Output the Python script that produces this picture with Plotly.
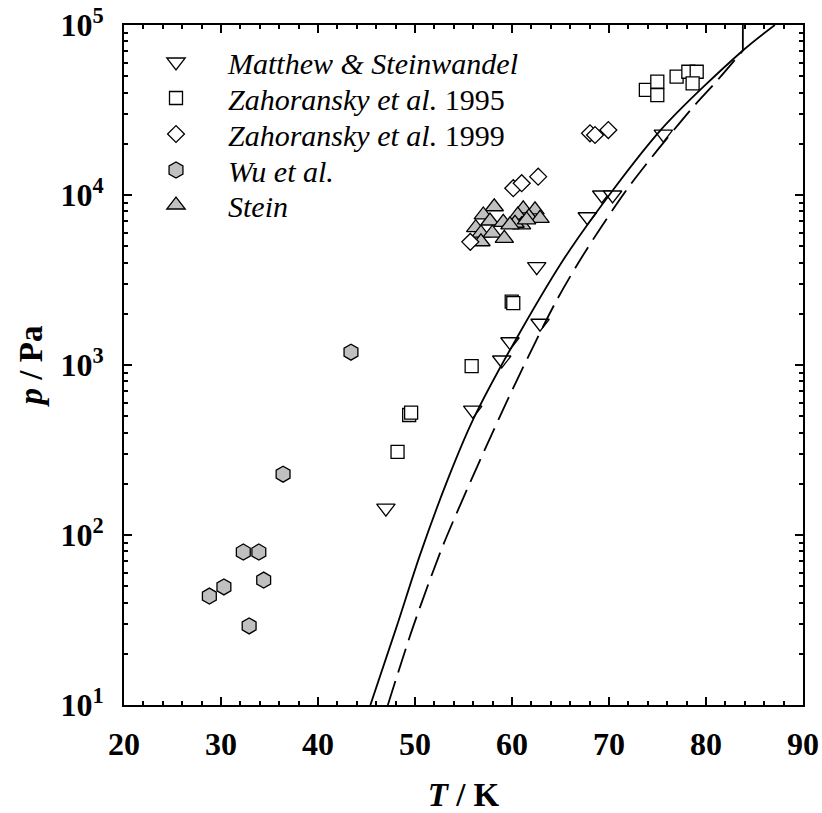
import plotly.graph_objects as go

# ---------------- data ----------------
ms_T = [47.0, 55.95, 58.94, 59.79, 62.55, 62.89, 67.76, 69.25, 70.37, 75.6]
ms_p = [144, 543, 1070, 1370, 3790, 1760, 7450, 10000, 10000, 22800]

z95_T = [48.2, 49.4, 49.6, 55.84, 59.97, 60.13, 73.8, 74.98, 74.98, 76.97, 78.18, 79.04, 78.62]
z95_p = [308, 508, 525, 986, 2360, 2310, 41500, 46400, 38700, 49700, 53100, 53100, 45400]

z99_T = [55.7, 60.13, 61.0, 62.7, 68.04, 68.56, 69.93]
z99_p = [5300, 10960, 11730, 12820, 23070, 22540, 24100]

wu_T = [28.8, 30.3, 32.3, 32.9, 33.9, 34.4, 36.4, 43.4]
wu_p = [43.7, 49.5, 79.4, 29.2, 79.4, 54.3, 228, 1190]

stein_T = [58.17, 57.04, 57.73, 59.10, 56.26, 56.80, 57.97, 59.21, 56.80,
           61.16, 62.37, 60.59, 61.75, 62.89, 60.99, 60.31, 59.79, 61.51]
stein_p = [8530, 7630, 7030, 6910, 6420, 5960, 5960, 5560, 5310,
           8280, 8170, 7620, 7450, 7290, 6670, 6820, 6670, 7130]

solid_T = [45.4, 48.1, 50.5, 53.4, 56.0, 60.8, 66.0, 75.3, 83.8, 87.1]
solid_p = [10, 28.8, 75.9, 213.8, 478.6, 1549, 4786, 23990, 70800, 100000]

dashed_T = [47.2, 49.8, 52.9, 56.7, 60.5, 64.6, 67.7, 72.2, 78.4, 81.1, 83.8]
dashed_p = [10, 28.8, 87.1, 275, 813, 2399, 4786, 11480, 31620, 46770, 70800]

vert_T = [83.8, 83.8]
vert_p = [70800, 100000]

x_ticks = [20, 30, 40, 50, 60, 70, 80, 90]
y_ticks = [10, 100, 1000, 10000, 100000]
y_ticktext = ["10<sup>1</sup>", "10<sup>2</sup>", "10<sup>3</sup>", "10<sup>4</sup>", "10<sup>5</sup>"]
y_minor = [m * 10 ** e for e in range(1, 5) for m in range(2, 10)]

legend_names = ["<i>Matthew &amp; Steinwandel</i>",
                "<i>Zahoransky et al.</i> 1995",
                "<i>Zahoransky et al.</i> 1999",
                "<i>Wu et al.</i>",
                "<i>Stein</i>"]

FONT = "'Liberation Serif', 'Times New Roman', Times, serif"
GRAY = "#c0c0c0"

fig = go.Figure()

fig.add_trace(go.Scatter(x=stein_T, y=stein_p, mode="markers", name=legend_names[4],
                         legend="legend5",
                         marker=dict(symbol="triangle-up", size=16, color=GRAY,
                                     line=dict(color="black", width=1.3))))
fig.add_trace(go.Scatter(x=wu_T, y=wu_p, mode="markers", name=legend_names[3],
                         legend="legend4",
                         marker=dict(symbol="hexagon", size=16, color=GRAY,
                                     line=dict(color="black", width=1.3))))
fig.add_trace(go.Scatter(x=ms_T, y=ms_p, mode="markers", name=legend_names[0],
                         legend="legend",
                         marker=dict(symbol="triangle-down", size=16, color="white",
                                     line=dict(color="black", width=1.3))))
fig.add_trace(go.Scatter(x=z95_T, y=z95_p, mode="markers", name=legend_names[1],
                         legend="legend2",
                         marker=dict(symbol="square", size=13, color="white",
                                     line=dict(color="black", width=1.3))))
fig.add_trace(go.Scatter(x=z99_T, y=z99_p, mode="markers", name=legend_names[2],
                         legend="legend3",
                         marker=dict(symbol="diamond", size=13, color="white",
                                     line=dict(color="black", width=1.3))))

fig.add_trace(go.Scatter(x=solid_T, y=solid_p, mode="lines", showlegend=False,
                         line=dict(color="black", width=1.8, shape="spline", smoothing=0.8)))
fig.add_trace(go.Scatter(x=dashed_T, y=dashed_p, mode="lines", showlegend=False,
                         line=dict(color="black", width=1.8, dash="25px,9px",
                                   shape="spline", smoothing=0.8)))
fig.add_trace(go.Scatter(x=vert_T, y=vert_p, mode="lines", showlegend=False,
                         line=dict(color="black", width=1.8)))

W, HGT = 822, 813
L, R, T, B = 124, 19, 25, 108
H = HGT - T - B


def legend_at(py):
    # py: pixel row of the legend entry
    return dict(x=0, xanchor="left", y=(HGT - B - py) / H, yanchor="middle",
                bgcolor="rgba(0,0,0,0)", borderwidth=0, itemwidth=94,
                font=dict(family=FONT, size=30, color="black"))


rows = [62, 98, 134, 170, 205]

fig.update_layout(
    width=W, height=HGT,
    margin=dict(l=L, r=R, t=T, b=B, autoexpand=False),
    paper_bgcolor="white", plot_bgcolor="white",
    showlegend=True,
    legend=legend_at(rows[0]),
    legend2=legend_at(rows[1]),
    legend3=legend_at(rows[2]),
    legend4=legend_at(rows[3]),
    legend5=legend_at(rows[4]),
    font=dict(family=FONT, color="black"),
)

fig.update_xaxes(
    range=[20, 90], tickvals=x_ticks, ticktext=[str(v) for v in x_ticks],
    automargin=False, ticklabeloverflow="allow",
    showgrid=False, zeroline=False,
    showline=True, linecolor="black", linewidth=2, mirror="ticks",
    ticks="inside", ticklen=8, tickwidth=2, tickcolor="black",
    minor=dict(dtick=2, ticks="inside", ticklen=4, tickwidth=2, tickcolor="black", showgrid=False),
    tickfont=dict(family=FONT, size=32, weight="bold", color="black"),
    ticklabelstandoff=10,
    title=dict(text="<i>T</i> / K", standoff=28,
               font=dict(family=FONT, size=33, weight="bold", color="black")),
)
fig.update_yaxes(
    type="log", range=[1, 5], tickvals=y_ticks, ticktext=y_ticktext,
    automargin=False, ticklabeloverflow="allow",
    showgrid=False, zeroline=False,
    showline=True, linecolor="black", linewidth=2, mirror="ticks",
    ticks="inside", ticklen=8, tickwidth=2, tickcolor="black",
    minor=dict(tickvals=y_minor, ticks="inside", ticklen=4, tickwidth=2, tickcolor="black", showgrid=False),
    tickfont=dict(family=FONT, size=32, weight="bold", color="black"),
    ticklabelstandoff=12,
    title=dict(text="<i>p</i> / Pa", standoff=8,
               font=dict(family=FONT, size=33, weight="bold", color="black")),
)

fig.write_html("out.html",
               config={"displayModeBar": False},
               post_script="document.body.style.margin='0px';")
